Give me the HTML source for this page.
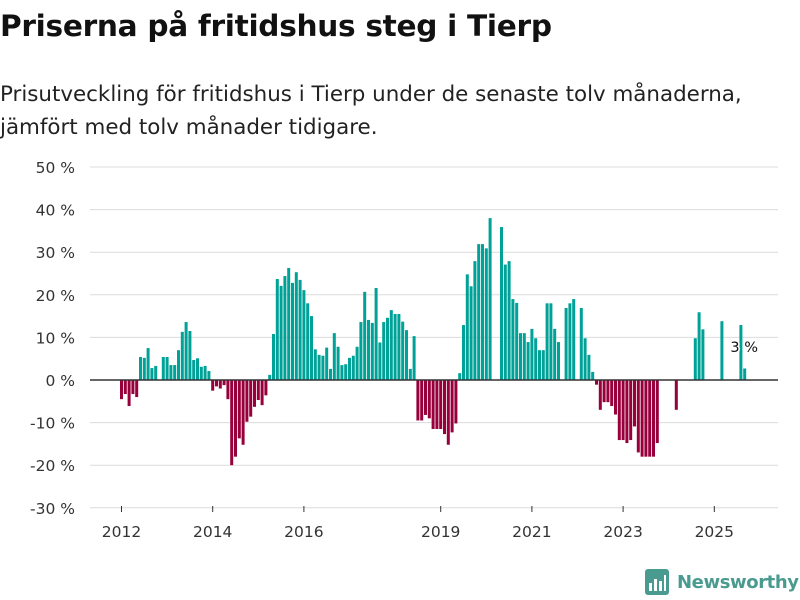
<!DOCTYPE html>
<html><head><meta charset="utf-8"><style>
body{margin:0;background:#fff;width:800px;height:600px;overflow:hidden;font-family:"DejaVu Sans","Liberation Sans",sans-serif;}
#title{position:absolute;left:0;top:9px;font-size:29.6px;font-weight:bold;color:#111;margin:0;letter-spacing:-0.3px}
#sub{position:absolute;left:0;top:78px;font-size:21.4px;line-height:33px;color:#222;margin:0}
svg{position:absolute;left:0;top:0}
</style></head><body>
<h1 id="title">Priserna på fritidshus steg i Tierp</h1>
<p id="sub">Prisutveckling för fritidshus i Tierp under de senaste tolv månaderna,<br>jämfört med tolv månader tidigare.</p>
<svg id="chart" width="800" height="600"></svg>
<script>
const yTicks=[50,40,30,20,10,0,-10,-20,-30];
const xYears=[2012,2014,2016,2019,2021,2023,2025];
const startYear=2012;
const values=[-4.5,-3.3,-6.1,-3.3,-4.0,5.4,5.2,7.5,2.8,3.3,null,5.4,5.4,3.5,3.5,7,11.3,13.6,11.5,4.7,5.1,3.1,3.3,2.1,
-2.5,-1.5,-2,-1.2,-4.5,-20,-18,-13.7,-15.2,-9.8,-8.6,-6.3,-4.7,-5.9,-3.6,1.2,10.8,23.7,22.1,24.4,26.3,22.8,25.3,23.5,
21.1,18,15,7.2,5.9,5.7,7.6,2.6,11,7.8,3.5,3.7,5.2,5.7,7.8,13.6,20.7,14.1,13.4,21.6,8.8,13.6,14.6,16.4,
15.5,15.5,13.7,11.7,2.6,10.3,-9.5,-9.5,-8.2,-9,-11.5,-11.5,-11.5,-12.7,-15.2,-12.3,-10.2,1.6,12.9,24.8,22,27.9,
31.9,31.9,30.9,38,null,null,35.9,27.1,27.9,19,18.1,11,11,8.9,12,9.8,7,7,18,18,12,8.9,
null,16.9,18,19,null,16.9,9.8,5.9,1.9,-1.1,-7,-5.2,-5.2,-6.1,-8.1,-14.1,-14.1,-14.8,-14.1,-10.9,-17,-18,-18,-18,
-18,-14.8,null,null,null,null,-7,null,null,null,null,9.8,15.9,11.9,null,null,null,null,13.8,null,null,null,null,12.9,2.7];
const lastLabel="3 %";
const svg=document.getElementById('chart');
const NS='http://www.w3.org/2000/svg';
function y(v){return 380-v*4.26;}
function x(i){return 120+i*3.8;}
function mk(t,a){const e=document.createElementNS(NS,t);for(const k in a)e.setAttribute(k,a[k]);svg.appendChild(e);return e;}
yTicks.forEach(t=>{
  if(t!==0){const g=mk('line',{x1:90,x2:778,y1:y(t),y2:y(t),stroke:'#dcdcdc','stroke-width':1});
  
  }
  const l=mk('text',{x:75,y:y(t)+6,'text-anchor':'end','font-size':15.5,fill:'#333'});
  l.textContent=t+' %';
  
  
});
values.forEach((v,i)=>{
  if(v===null)return;
  const r=mk('rect',{x:x(i),width:3,y:v>=0?y(v):380,height:Math.abs(v)*4.26,fill:v>=0?'#00a197':'#97003a'});
  
  
});
const ax=mk('line',{x1:90,x2:778,y1:380,y2:380,stroke:'#333','stroke-width':1.5});


xYears.forEach(yr=>{
  const cx=x((yr-startYear)*12)+1.5;
  const tk=mk('line',{x1:cx,x2:cx,y1:506,y2:512,stroke:'#333','stroke-width':1});
  
  
  const l=mk('text',{x:cx,y:537,'text-anchor':'middle','font-size':15.5,fill:'#333'});
  l.textContent=yr;
  
  
});
let li=values.length-1;
const vl=mk('text',{x:x(li)+1,y:352,'text-anchor':'middle','font-size':14.5,fill:'#111',stroke:'#fff','stroke-width':3,'paint-order':'stroke'});
vl.textContent=lastLabel;


</script>
<div style="position:absolute;left:645px;top:569px;display:flex;align-items:center">
<svg width="24" height="26" viewBox="0 0 24 26" style="position:static"><rect x="0" y="0" width="24" height="26" rx="3" fill="#4a9b8f"/><rect x="4" y="14" width="3" height="8" fill="#fff"/><rect x="9" y="10" width="3" height="12" fill="#fff"/><rect x="14" y="12" width="3" height="10" fill="#fff"/><rect x="19" y="6" width="2" height="16" fill="#fff"/></svg>
<span style="font-size:18px;font-weight:bold;color:#4a9b8f;margin-left:8px;letter-spacing:-0.4px">Newsworthy</span></div>
</body></html>
